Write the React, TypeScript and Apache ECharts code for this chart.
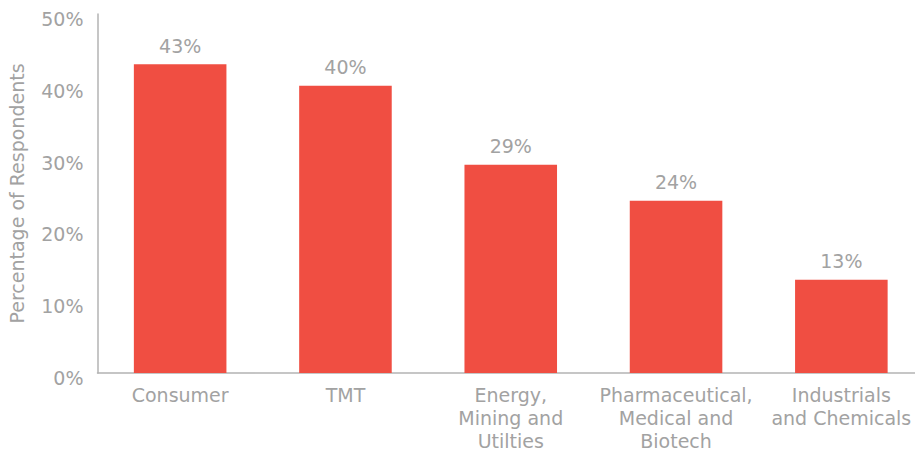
import React, { useEffect, useRef } from "react";
import * as echarts from "echarts";

const categories = [
  "Consumer",
  "TMT",
  "Energy,\nMining and\nUtilties",
  "Pharmaceutical,\nMedical and\nBiotech",
  "Industrials\nand Chemicals",
];
const values = [43, 40, 29, 24, 13];
const yTicks = { min: 0, max: 50, interval: 10 };
const yAxisName = "Percentage of Respondents";

const GREY = "#a2a2a2";
const FONT = "DejaVu Sans";
const WEIGHT = "normal";

export default function App() {
  const ref = useRef<HTMLDivElement>(null);
  useEffect(() => {
    if (!ref.current) return;
    const chart = echarts.init(ref.current, null, { renderer: "svg" });
    chart.setOption({
      animation: false,
      grid: {
        left: 97.5,
        right: -9,
        top: 14,
        bottom: 80,
        containLabel: false,
        outerBoundsMode: "none",
      },
      xAxis: {
        type: "category",
        data: categories,
        axisLine: { show: true, lineStyle: { color: "#b3b3b3", width: 1.5 } },
        axisTick: { show: false },
        axisLabel: {
          color: GREY,
          fontFamily: FONT,
          fontWeight: WEIGHT,
          fontSize: 19,
          lineHeight: 23.3,
          margin: 10,
          interval: 0,
        },
      },
      yAxis: {
        type: "value",
        min: yTicks.min,
        max: yTicks.max,
        interval: yTicks.interval,
        name: yAxisName,
        nameLocation: "middle",
        nameRotate: 90,
        nameGap: 71,
        nameTextStyle: { color: GREY, fontFamily: FONT, fontWeight: WEIGHT, fontSize: 19 },
        axisLine: { show: true, lineStyle: { color: "#b3b3b3", width: 1.5 } },
        axisTick: { show: false },
        splitLine: { show: false },
        axisLabel: {
          color: GREY,
          fontFamily: FONT,
          fontWeight: WEIGHT,
          fontSize: 19,
          margin: 14,
          formatter: (v: number) => v + "%",
          verticalAlign: "top",
          lineHeight: 10,
        },
      },
      series: [
        {
          type: "bar",
          data: values,
          barWidth: "56%",
          itemStyle: { color: "#F04E42" },
          label: {
            show: true,
            position: "top",
            distance: 9,
            color: GREY,
            fontFamily: FONT,
            fontWeight: WEIGHT,
            fontSize: 19,
            formatter: "{c}%",
          },
        },
      ],
    });
    return () => chart.dispose();
  }, []);
  return (
    <div
      ref={ref}
      style={{ position: "absolute", left: 0, top: 0, width: 915, height: 453 }}
    />
  );
}
